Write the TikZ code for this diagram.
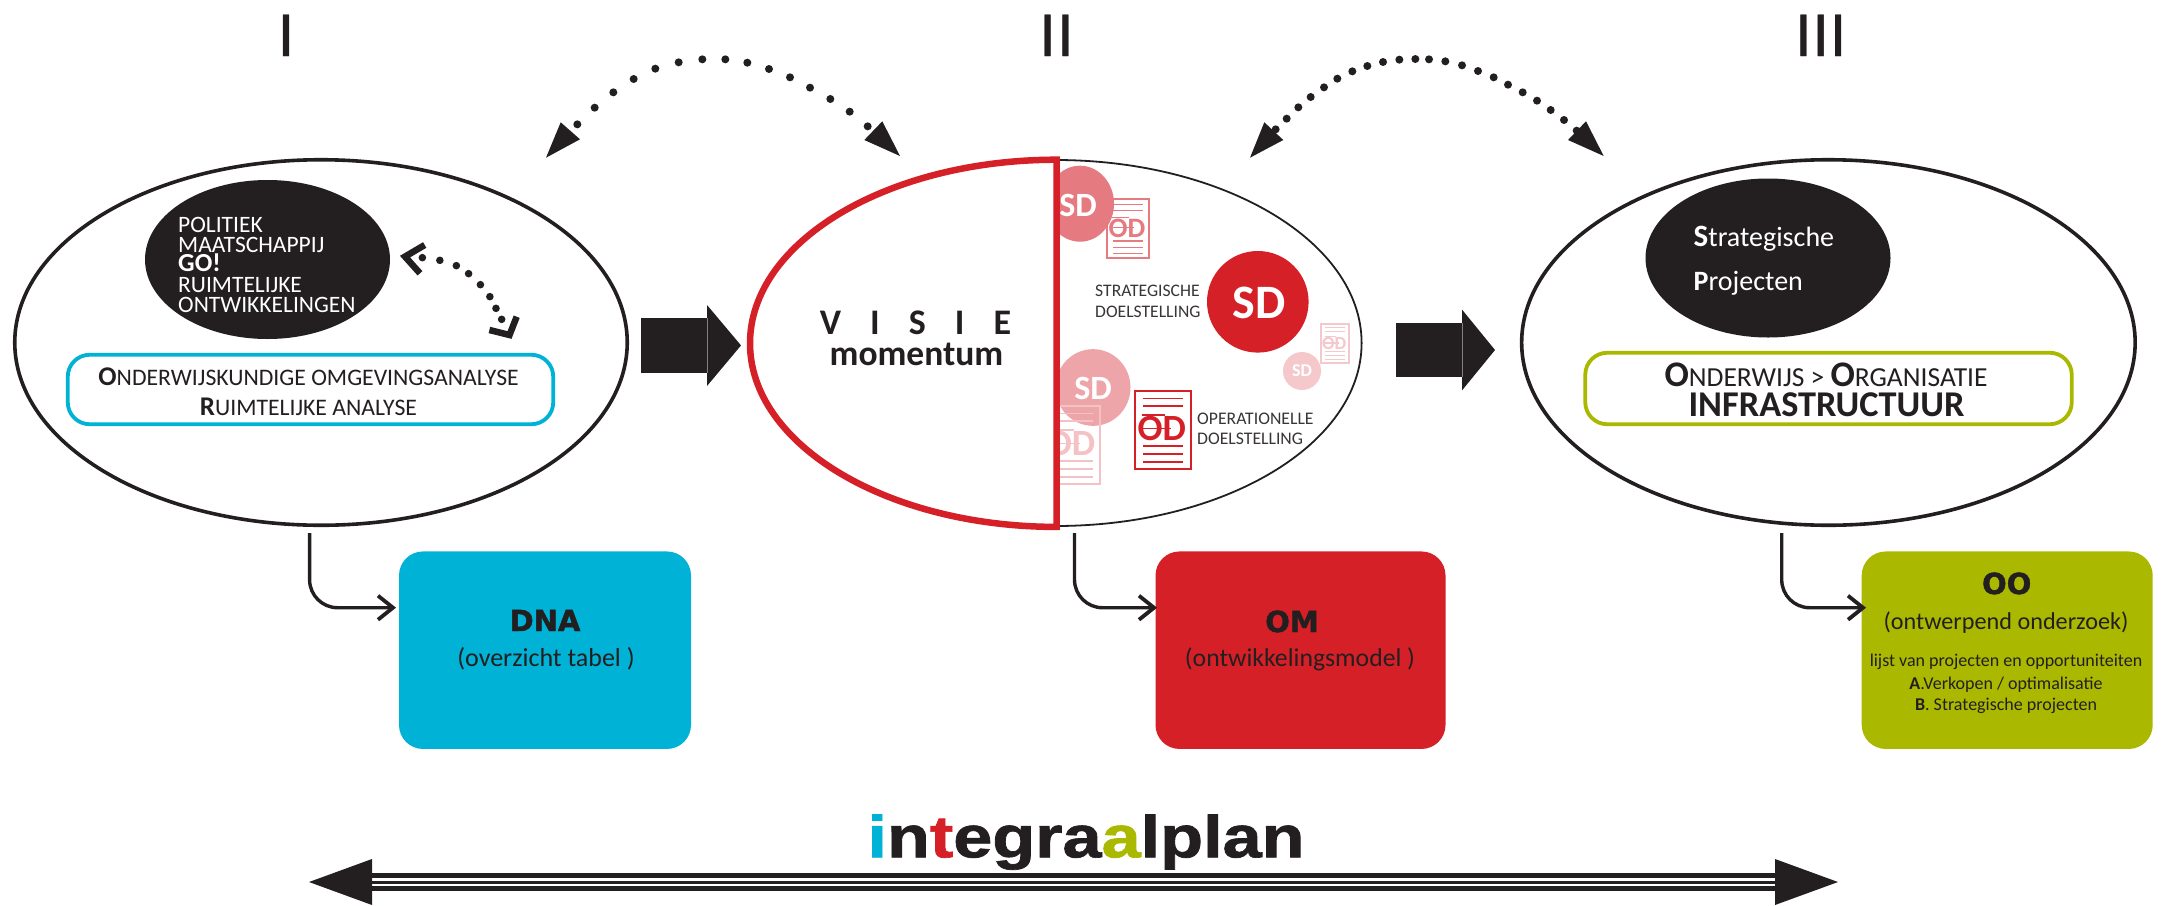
\documentclass[tikz,border=0pt]{standalone}
\usepackage{fontspec}
\usetikzlibrary{shapes.geometric}
\setmainfont{Carlito}
\newfontfamily\heavy[BoldFeatures={FakeBold=1.6}]{DejaVu Sans}
\newfontfamily\arialf[BoldFeatures={FakeBold=1.2}]{Liberation Sans}
\newfontfamily\numf[FakeBold=.7]{Liberation Sans}
\definecolor{ink}{HTML}{231F20}
\definecolor{cy}{HTML}{00B2D6}
\definecolor{rd}{HTML}{D52027}
\definecolor{gr}{HTML}{AAB800}
\definecolor{rdA}{HTML}{E57A80}
\definecolor{rdB}{HTML}{EEA5A9}
\definecolor{rdC}{HTML}{F5C8CB}
\newcommand{\fs}[1]{\fontsize{#1}{#1}\selectfont}
\newcommand{\docicon}[5]{%
  \begin{scope}[shift={(#2,#3)},scale=#4,#5,every node/.append style={transform shape}]
    \draw[line width=2pt] (0,0) rectangle (56.3,78);
    \draw[line width=1.2pt] (8.5,7.6)--(48.5,7.6) (8.5,15.3)--(48.5,15.3) (7.5,24.3)--(30,24.3)
      (8,38)--(36,38) (8.5,55.3)--(48.5,55.3) (8.5,63.3)--(48.5,63.3) (8.5,71.3)--(48.5,71.3);
    \node[inner sep=0,text=#5] (#1) at (27,38) {\fs{37}\bfseries OD};
  \end{scope}}
\tikzset{
  txt/.style={inner sep=0,text=ink},
  bigell/.style={draw=ink,ellipse,line width=3.6pt,inner sep=0,minimum width=612.5pt,minimum height=365.5pt,fill=white},
  darkell/.style={fill=ink,ellipse,inner sep=0,minimum width=245pt,minimum height=159pt},
  framebox/.style={rectangle,rounded corners=22pt,line width=3.8pt,fill=white,inner sep=0},
  outbox/.style={rectangle,rounded corners=24pt,inner sep=0,minimum height=197.5pt},
  sdc/.style={circle,inner sep=0,text=white,font=\bfseries},
  elbow/.style={draw=ink,line width=3.4pt,rounded corners=28pt},
  chev/.style={draw=ink,line width=3.8pt,miter limit=10},
  thick chev/.style={draw=ink,line width=6.5pt,miter limit=10},
}
\begin{document}
\begin{tikzpicture}[x=1pt,y=-1pt]
\useasboundingbox (0,0) rectangle (2167,905);
% numerals
\node[txt,anchor=base] (n1) at (286,56) {\numf\fs{60}I};
\node[txt,anchor=base] (n2) at (1056.5,56) {\numf\fs{60}I\hspace{1.3pt}I};
\node[txt,anchor=base] (n3) at (1820.7,56) {\numf\fs{60}I\hspace{.6pt}I\hspace{.6pt}I};
% dotted arcs
\foreach \x/\y in {172/253,224/203,280/157,341/117,406/86,476/67,547/58,616/58,682/68,747/87,810/112,870/143,931/177,989/215,1043/259}
  \fill[ink] ({520+\x/3},{40+\y/3}) circle[radius=4];
\fill[ink] (546,157.7)--(560.7,122.3)--(580,139.3)--cycle;
\fill[ink] (900,156)--(882.3,121.3)--(864.3,140)--cycle;
\foreach \x/\y in {137/268,170/236,205/202,242/171,282/142,322/116,367/94,412/78,459/66,508/59,556/57,597/58,646/64,696/76,744/93,791/112,834/134,878/157,921/182,962/210,1002/240,1040/272}
  \fill[ink] ({1230+\x/3},{40+\y/3}) circle[radius=4];
\fill[ink] (1250,157.7)--(1264.3,122.3)--(1283.3,140)--cycle;
\fill[ink] (1603.7,156)--(1586,121.3)--(1568,140)--cycle;
% ellipse I
\node[bigell] (e1) at (321,342.5) {};
\node[darkell] (d1) at (267.5,259.5) {};
\node[txt,text=white,anchor=base west] (t1a) at (178,232.7) {\fs{23.5}POLITIEK};
\node[txt,text=white,anchor=base west] (t1b) at (178,252.7) {\fs{23.5}MAATSCHAPPIJ};
\node[txt,text=white,anchor=base west] (t1c) at (178,271.7) {\fs{26}\bfseries GO!};
\node[txt,text=white,anchor=base west] (t1d) at (178,292.7) {\fs{23.5}RUIMTELIJKE};
\node[txt,text=white,anchor=base west] (t1e) at (178,312.7) {\fs{23.5}ONTWIKKELINGEN};
\foreach \x/\y in {895/383,932/391,967/407,993/431,1018/464,1038/500,1051/535,1063/568}
  \fill[ink] ({\x/2.119},{130+\y/3}) circle[radius=3.8];
\draw[thick chev] (424.7,245)--(405,256.6)--(420,273.3);
\draw[thick chev] (516.7,316.7)--(509.5,335)--(489.4,330);
\node[framebox,draw=cy,minimum width=485.5pt,minimum height=69.5pt] (b1) at (310.5,389.5) {};
\node[txt,anchor=base] (b1a) at (308.6,385) {{\fs{27}\bfseries O}\fs{23.7}NDERWIJSKUNDIGE OMGEVINGSANALYSE};
\node[txt,anchor=base] (b1b) at (308.4,415) {{\fs{27}\bfseries R}\fs{23.7}UIMTELIJKE ANALYSE};
% block arrow 1
\fill[ink] (641,318) rectangle (707,372.7);
\fill[ink] (707,305)--(741,345.4)--(707,386)--cycle;
\draw[gray,line width=.6pt] (707,318)--(707,372.7);
% ellipse II
\node[draw=ink,ellipse,line width=1.8pt,inner sep=0,minimum width=612pt,minimum height=366pt,fill=white] (e2) at (1055.6,343) {};
\node[sdc,fill=rdA,ellipse,minimum width=68pt,minimum height=76pt] (sd1) at (1080,203.7) {};
\node[txt,text=white] (sd1t) at (1078,205) {\fs{34}\bfseries SD};
\docicon{od1}{1106.5}{199}{.76}{rdA}
\node[sdc,fill=rd,minimum size=101.6pt] (sd2) at (1257.8,301.8) {};
\node[txt,text=white] (sd2t) at (1259,302.5) {\fs{48}\bfseries SD};
\node[sdc,fill=rdB,ellipse,minimum width=75pt,minimum height=76.7pt] (sd3) at (1093,387.5) {};
\node[txt,text=white] (sd3t) at (1093,388) {\fs{34}\bfseries SD};
\docicon{od3}{1044}{405.7}{1}{rdC!80!rdB}
\node[sdc,fill=rdC,minimum size=38pt] (sd4) at (1302,371) {};
\node[txt,text=white] (sd4t) at (1302,371) {\fs{18}\bfseries SD};
\docicon{od4}{1320.8}{324}{.5}{rdC}
\docicon{od2}{1134.7}{390.7}{1}{rd}
\draw[rd,line width=6.5pt,fill=white,line join=miter] (e2.north) ++(1.1,0.6) arc[start angle=-90,end angle=-270,x radius=306.7,y radius=183.6] -- cycle;
\node[txt,anchor=base,inner sep=0] (visie) at (915.5,334) {\fs{36}\bfseries\spaceskip=29pt V I S I E};
\node[txt,anchor=base] (mom) at (916.5,365) {\fs{35.5}\bfseries momentum};
\node[txt,anchor=base west,text=ink!90] (sa) at (1095,296.7) {\fs{17.6}STRATEGISCHE};
\node[txt,anchor=base west,text=ink!90] (sb) at (1095,317.3) {\fs{17.6}DOELSTELLING};
\node[txt,anchor=base west,text=ink!90] (oa) at (1197,424.3) {\fs{17.7}OPERATIONELLE};
\node[txt,anchor=base west,text=ink!90] (ob) at (1197,444.3) {\fs{17.7}DOELSTELLING};
% block arrow 2
\fill[ink] (1396,323.4) rectangle (1462,377);
\fill[ink] (1462,309.6)--(1495,350)--(1462,390.4)--cycle;
\draw[gray,line width=.6pt] (1462,323.4)--(1462,377);
% ellipse III
\node[bigell,minimum width=613.5pt] (e3) at (1828.4,342.5) {};
\node[darkell] (d3) at (1768,258) {};
\node[txt,text=white,anchor=base west] (s3a) at (1693.5,246.7) {{\fs{31}\bfseries S}\fs{28}trategische};
\node[txt,text=white,anchor=base west] (s3b) at (1693.5,290) {{\fs{28}\bfseries P}\fs{28}rojecten};
\node[framebox,draw=gr,minimum width=486.5pt,minimum height=71.5pt] (b3) at (1828.5,388.5) {};
\node[txt,anchor=base] (b3a) at (1826,386.7) {{\fs{36}\bfseries O}\fs{27.5}NDERWIJS > {\fs{36}\bfseries O}\fs{27.5}RGANISATIE};
\node[txt,anchor=base] (b3b) at (1826.5,416.7) {\fs{36.3}\bfseries INFRASTRUCTUUR};
% output boxes
\node[outbox,fill=cy,minimum width=292pt] (dna) at (545,650.2) {};
\node[outbox,fill=rd,minimum width=290pt] (om) at (1300.5,650.2) {};
\node[outbox,fill=gr,minimum width=291pt] (oo) at (2007.2,650.2) {};
\node[txt,anchor=base] (dnat) at (545,631) {\heavy\bfseries\fs{29}DNA};
\node[txt,anchor=base] (dnas) at (546,666) {\fs{26}(overzicht tabel )};
\node[txt,anchor=base] (omt) at (1292,632) {\heavy\bfseries\fs{29}OM};
\node[txt,anchor=base] (oms) at (1300,666) {\fs{25.7}(ontwikkelingsmodel )};
\node[txt,anchor=base] (oot) at (2006.7,594) {\heavy\bfseries\fs{29}OO};
\node[txt,anchor=base] (oos) at (2006,629) {\fs{24.2}(ontwerpend onderzoek)};
\node[txt,anchor=base] (ool) at (2006,666.7) {\fs{18}lijst van projecten en opportuniteiten};
\node[txt,anchor=base] (ooa) at (2006,689) {\fs{18}{\bfseries A}.Verkopen / optimalisatie};
\node[txt,anchor=base] (oob) at (2006,710.7) {\fs{18}{\bfseries B}. Strategische projecten};
% elbows
\coordinate (c1s) at (309.6,533); \coordinate (c1e) at (393,607.7);
\coordinate (c2s) at (1074.5,533); \coordinate (c2e) at (1154,607.7);
\coordinate (c3s) at (1781.7,533); \coordinate (c3e) at (1863,607.7);
\foreach \s/\e in {c1s/c1e,c2s/c2e,c3s/c3e}{
  \draw[elbow] (\s) |- (\e);
  \draw[chev] ([shift={(-15,-12)}]\e) -- (\e) -- ([shift={(-15,12)}]\e);
}
% integraalplan
\node[txt,anchor=base] (ip) at (1086,857.3) {\arialf\bfseries\fs{59}\scalebox{1.19}[1]{\textcolor{cy}{i}n\textcolor{rd}{t}egra\textcolor{gr}{a}lplan}};
% double arrow
\coordinate (al) at (309,882); \coordinate (ar) at (1838,882);
\fill[ink] (372,873.3) rectangle (1775,878.3);
\fill[ink] (372,881.2) rectangle (1775,884.4);
\fill[ink] (372,886) rectangle (1775,890.8);
\fill[ink] (al)--(372,859)--(372,905)--cycle;
\fill[ink] (ar)--(1775,859)--(1775,905)--cycle;
\end{tikzpicture}
\end{document}
